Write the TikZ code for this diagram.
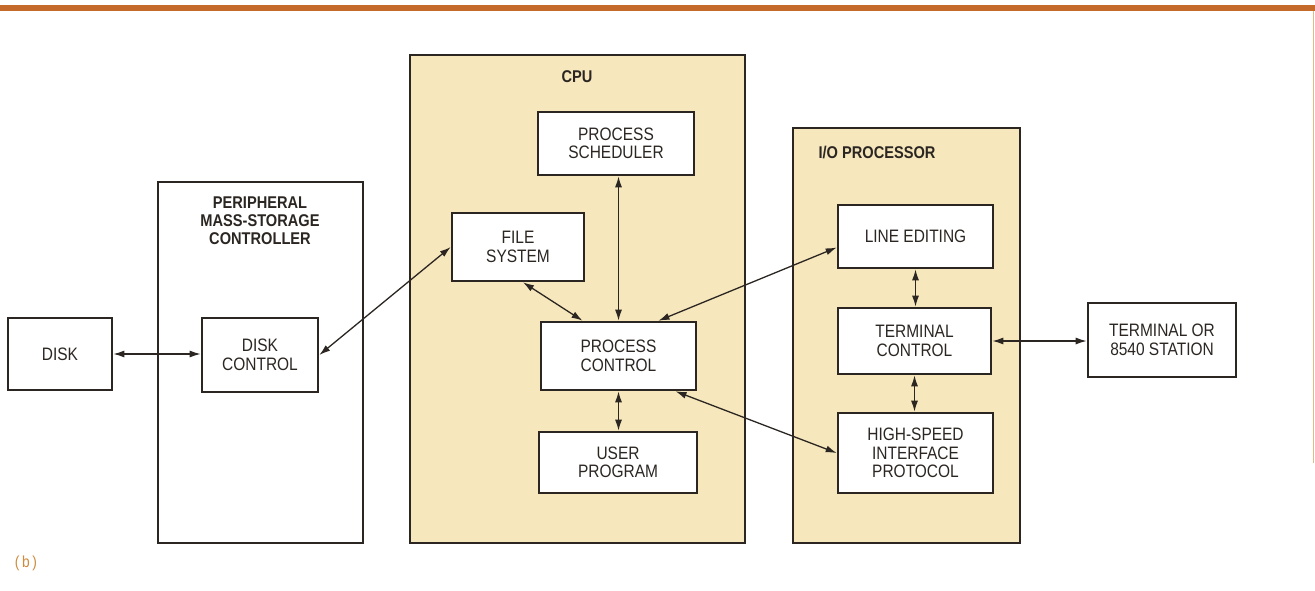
\documentclass[tikz,border=0pt]{standalone}
\usepackage{fontspec}
\setmainfont{Liberation Sans}[FakeStretch=0.86]
\usetikzlibrary{arrows.meta}
\definecolor{cputan}{HTML}{F6E7BC}
\definecolor{barorange}{HTML}{C46A2A}
\definecolor{capbrown}{HTML}{CF8A3A}
\definecolor{inkgray}{HTML}{2B2622}

\begin{document}
\begin{tikzpicture}[x=1pt,y=-1pt,
  blk/.style={draw=inkgray, line width=2.6pt, fill=white, align=center, inner sep=0pt, font={\fontsize{18}{18.5}\selectfont}, text=inkgray},
  unit/.style={draw=inkgray, line width=1.8pt, inner sep=0pt},
  unitlbl/.style={font={\bfseries\fontsize{17}{18}\selectfont}, align=center, text=inkgray},
  link/.style={draw=inkgray, line width=1.3pt, {Latex[length=11pt,width=7pt]}-{Latex[length=11pt,width=7pt]}}]
\useasboundingbox (0,0) rectangle (1315,591);
\fill[barorange] (0,5) rectangle (1315,11);
\draw[capbrown!60, line width=1pt] (1313,11) -- (1313,463);
\node[unit, fill=white, minimum width=205, minimum height=361] (msc) at (260.5,362.5) {};
\node[unit, fill=cputan, minimum width=335, minimum height=488] (cpu) at (577.5,299) {};
\node[unit, fill=cputan, minimum width=227, minimum height=415] (iop) at (906.5,335.5) {};
\node[unitlbl] (msclbl) at (260,221) {PERIPHERAL\\MASS-STORAGE\\CONTROLLER};
\node[unitlbl] (cpulbl) at (577,77) {CPU};
\node[unitlbl] (ioplbl) at (877,153) {I/O PROCESSOR};
\node[blk, minimum width=104, minimum height=72] (disk) at (60,354) {DISK};
\node[blk, minimum width=116, minimum height=74] (dskctl) at (260,355) {DISK\\CONTROL};
\node[blk, minimum width=156, minimum height=63] (sched) at (616,143.5) {PROCESS\\SCHEDULER};
\node[blk, minimum width=132, minimum height=68] (filesys) at (518,247) {FILE\\SYSTEM};
\node[blk, minimum width=155, minimum height=68] (pctl) at (618.5,356) {PROCESS\\CONTROL};
\node[blk, minimum width=158, minimum height=61] (usrprg) at (618,462.5) {USER\\PROGRAM};
\node[blk, minimum width=155, minimum height=63] (lineed) at (915.5,236.5) {LINE EDITING};
\node[blk, minimum width=153, minimum height=66] (tctl) at (914.5,341) {TERMINAL\\CONTROL};
\node[blk, minimum width=155, minimum height=80] (hsp) at (915.5,453) {HIGH-SPEED\\INTERFACE\\PROTOCOL};
\node[blk, minimum width=148, minimum height=74] (term) at (1162,340) {TERMINAL OR\\8540 STATION};
\node[text=capbrown, font={\fontsize{16}{18}\selectfont}] (figtag) at (26,563) {(\,b\,)};
\draw[link] (disk.east) -- (disk.east -| dskctl.west);
\draw[link] (dskctl.east) -- (filesys.west);
\draw[link] ([xshift=5pt]filesys.south) -- ([xshift=-36pt]pctl.north);
\draw[link] (sched.south -| pctl.north) -- (pctl.north);
\draw[link] ([yshift=-11pt]lineed.west) -- ([xshift=40pt]pctl.north);
\draw[link] (pctl.south) -- (usrprg.north -| pctl.south);
\draw[link] ([xshift=57pt]pctl.south) -- (hsp.west);
\draw[link] (lineed.south) -- (lineed.south |- tctl.north);
\draw[link] (tctl.south) -- (tctl.south |- hsp.north);
\draw[link] (tctl.east) -- (tctl.east -| term.west);
\end{tikzpicture}
\end{document}
